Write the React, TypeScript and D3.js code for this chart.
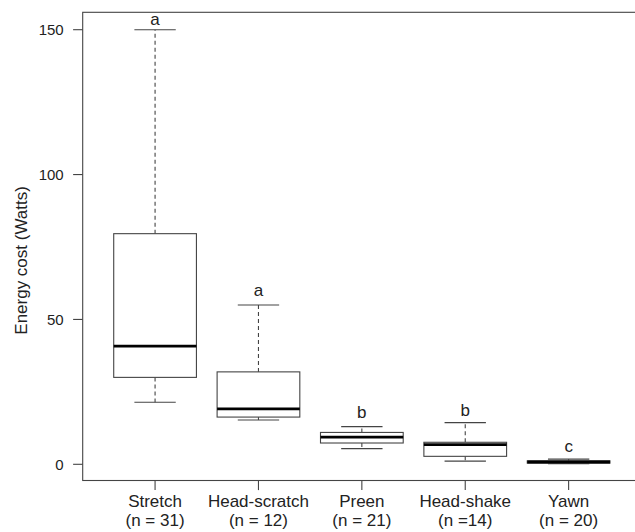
import React, { useEffect, useRef } from 'react';
import * as d3 from 'd3';

// values (Watts)
const categories = ['Stretch', 'Head-scratch', 'Preen', 'Head-shake', 'Yawn'];
const nLabels = ['(n = 31)', '(n = 12)', '(n = 21)', '(n =14)', '(n = 20)'];
const lowWhisker = [21.4, 15.3, 5.4, 1.1, 0.2];
const q1 = [30.0, 16.3, 7.35, 2.75, 0.4];
const median = [40.8, 19.1, 9.4, 6.8, 0.8];
const q3 = [79.6, 31.9, 11.0, 7.6, 1.2];
const highWhisker = [150, 55.0, 13.0, 14.4, 1.8];
const letters = ['a', 'a', 'b', 'b', 'c'];
const letterY = [151.6, 58.2, 16.0, 16.8, 4.4];
const yTicks = [0, 50, 100, 150];

const W = 635;
const H = 532;

const App = () => {
  const svgRef = useRef<SVGSVGElement>(null);

  useEffect(() => {
    const svg = d3.select(svgRef.current);
    svg.selectAll('*').remove();

    const font = '"Liberation Sans", Arial, Helvetica, sans-serif';
    const ink = '#222';
    const lineCol = '#444';

    // plot region (right side of frame runs off the picture)
    const left = 82.7;
    const right = 641;
    const top = 12.3;
    const bottom = 480.5;

    const x = d3.scaleLinear().domain([0.3, categories.length + 0.7]).range([left, right]);
    const y = d3.scaleLinear().domain([0, 150]).range([464.3, 29.7]);

    const step = x(2) - x(1);
    const boxW = step * 0.8;
    const capW = boxW * 0.5;

    const g = svg.append('g');

    // frame
    g.append('rect')
      .attr('x', left)
      .attr('y', top)
      .attr('width', right - left)
      .attr('height', bottom - top)
      .attr('fill', 'none')
      .attr('stroke', lineCol)
      .attr('stroke-width', 1.1);

    // y axis ticks + labels
    yTicks.forEach(t => {
      g.append('line')
        .attr('x1', left - 9.6)
        .attr('x2', left)
        .attr('y1', y(t))
        .attr('y2', y(t))
        .attr('stroke', lineCol)
        .attr('stroke-width', 1.1);
      g.append('text')
        .attr('x', left - 19)
        .attr('y', y(t))
        .attr('dy', '0.36em')
        .attr('text-anchor', 'end')
        .style('font-family', font)
        .style('font-size', '15px')
        .style('fill', ink)
        .text(t);
    });

    // y axis title
    g.append('text')
      .attr('transform', `translate(27, ${(top + bottom) / 2 + 14}) rotate(-90)`)
      .attr('text-anchor', 'middle')
      .style('font-family', font)
      .style('font-size', '17px')
      .style('fill', ink)
      .text('Energy cost (Watts)');

    categories.forEach((c, i) => {
      const cx = x(i + 1);

      // x tick
      g.append('line')
        .attr('x1', cx)
        .attr('x2', cx)
        .attr('y1', bottom)
        .attr('y2', bottom + 9.6)
        .attr('stroke', lineCol)
        .attr('stroke-width', 1.1);

      // category labels
      g.append('text')
        .attr('x', cx)
        .attr('y', 506.5)
        .attr('text-anchor', 'middle')
        .style('font-family', font)
        .style('font-size', '17px')
        .style('fill', ink)
        .text(c);
      g.append('text')
        .attr('x', cx)
        .attr('y', 525.5)
        .attr('text-anchor', 'middle')
        .style('font-family', font)
        .style('font-size', '17px')
        .style('fill', ink)
        .text(nLabels[i]);

      // whiskers
      g.append('line')
        .attr('x1', cx).attr('x2', cx)
        .attr('y1', y(q3[i])).attr('y2', y(highWhisker[i]))
        .attr('stroke', lineCol)
        .attr('stroke-width', 1.1)
        .attr('stroke-dasharray', '4,3');
      g.append('line')
        .attr('x1', cx).attr('x2', cx)
        .attr('y1', y(q1[i])).attr('y2', y(lowWhisker[i]))
        .attr('stroke', lineCol)
        .attr('stroke-width', 1.1)
        .attr('stroke-dasharray', '4,3');

      // caps
      [highWhisker[i], lowWhisker[i]].forEach(v => {
        g.append('line')
          .attr('x1', cx - capW / 2).attr('x2', cx + capW / 2)
          .attr('y1', y(v)).attr('y2', y(v))
          .attr('stroke', lineCol)
          .attr('stroke-width', 1.1);
      });

      // box
      g.append('rect')
        .attr('x', cx - boxW / 2)
        .attr('y', y(q3[i]))
        .attr('width', boxW)
        .attr('height', Math.max(0.5, y(q1[i]) - y(q3[i])))
        .attr('fill', 'white')
        .attr('stroke', lineCol)
        .attr('stroke-width', 1.1);

      // median
      g.append('line')
        .attr('x1', cx - boxW / 2).attr('x2', cx + boxW / 2)
        .attr('y1', y(median[i])).attr('y2', y(median[i]))
        .attr('stroke', '#000')
        .attr('stroke-width', 2.8);

      // significance letters
      g.append('text')
        .attr('x', cx)
        .attr('y', y(letterY[i]))
        .attr('text-anchor', 'middle')
        .style('font-family', font)
        .style('font-size', '17px')
        .style('fill', ink)
        .text(letters[i]);
    });
  }, []);

  return (
    <div style={{ position: 'absolute', left: 0, top: 0 }}>
      <svg ref={svgRef} width={W} height={H} style={{ display: 'block', background: 'white' }}></svg>
    </div>
  );
};

export default App;
